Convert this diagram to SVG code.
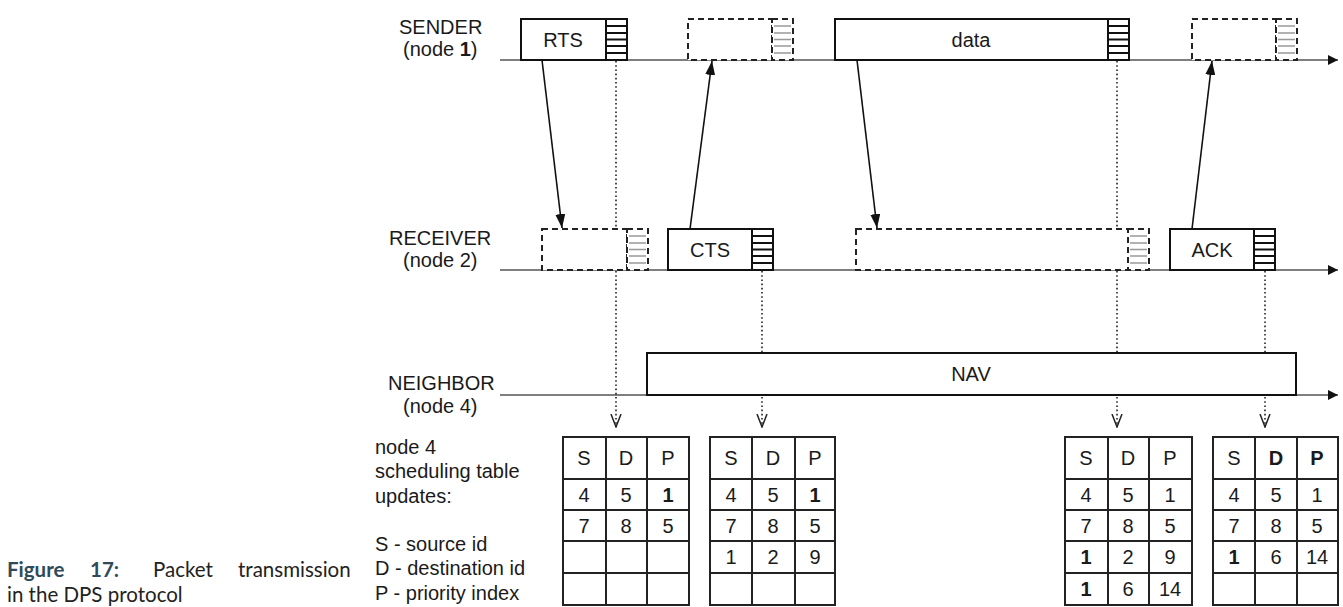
<svg xmlns="http://www.w3.org/2000/svg" xmlns:xlink="http://www.w3.org/1999/xlink" width="1343" height="607" viewBox="0 0 1343 607">
<style>
.lbl{font-family:"Liberation Sans",Arial,sans-serif;font-size:20px;fill:#1a1a1a}
.mid{text-anchor:middle}
.b{font-weight:bold}
.axis{stroke:#555;stroke-width:1.5;fill:none}
.box{fill:#fff;stroke:#111;stroke-width:2}
.dbox{fill:#fff;stroke:#222;stroke-width:2;stroke-dasharray:6 4}
.dot{stroke:#222;stroke-width:1.6;stroke-dasharray:1.6 2.6;fill:none}
.msg{stroke:#111;stroke-width:1.6;fill:none}
.tbl{fill:#fff;stroke:#222;stroke-width:2}
.grid{stroke:#222;stroke-width:2}
.cap{font-family:Lato,"Open Sans",sans-serif;font-size:20.5px;fill:#222}
.capb{font-weight:bold;fill:#2f4b5a}
</style>
<defs>
<marker id="ah" viewBox="0 0 10 10" refX="10" refY="5" markerWidth="10" markerHeight="10" markerUnits="userSpaceOnUse" orient="auto"><path d="M0,0 L10,5 L0,10 z" fill="#111"/></marker>
<marker id="mh" viewBox="0 0 14 10" refX="14" refY="5" markerWidth="14" markerHeight="10" markerUnits="userSpaceOnUse" orient="auto"><path d="M0,0 L14,5 L0,10 z" fill="#111"/></marker>
<marker id="oh" viewBox="0 0 14 12" refX="13" refY="6" markerWidth="14" markerHeight="12" markerUnits="userSpaceOnUse" orient="auto"><path d="M0,1 L13,6 L0,11" fill="none" stroke="#222" stroke-width="1.5"/></marker>
<g id="hs">
<rect x="0" y="0" width="21" height="41" fill="#fff" stroke="#111" stroke-width="2"/>
<path d="M0,7H21M0,14H21M0,20.5H21M0,27H21M0,34H21" stroke="#111" stroke-width="2"/>
</g>
<g id="hd">
<rect x="0" y="0" width="21" height="41" fill="#fff" stroke="none"/>
<path d="M2,7H19M2,14H19M2,20.5H19M2,27H19M2,34H19" stroke="#999" stroke-width="1.6"/>
<rect x="0" y="0" width="21" height="41" fill="none" stroke="#222" stroke-width="2" stroke-dasharray="6 4"/>
</g>
</defs>

<g id="axes">
<line class="axis" x1="500" y1="60" x2="1338" y2="60" marker-end="url(#ah)"/>
<line class="axis" x1="500" y1="270" x2="1338" y2="270" marker-end="url(#ah)"/>
<line class="axis" x1="500" y1="395" x2="1338" y2="395" marker-end="url(#ah)"/>
</g>

<g id="connectors">
<line class="dot" x1="616" y1="61" x2="616" y2="427" marker-end="url(#oh)"/>
<line class="dot" x1="762" y1="271" x2="762" y2="427" marker-end="url(#oh)"/>
<line class="dot" x1="1117" y1="61" x2="1117" y2="427" marker-end="url(#oh)"/>
<line class="dot" x1="1265" y1="271" x2="1265" y2="427" marker-end="url(#oh)"/>
</g>

<g id="labels">
<text class="lbl" x="399" y="34">SENDER</text>
<text class="lbl" x="403" y="56">(node <tspan class="b">1</tspan>)</text>
<text class="lbl" x="389" y="245">RECEIVER</text>
<text class="lbl" x="403" y="267">(node 2)</text>
<text class="lbl" x="388" y="390">NEIGHBOR</text>
<text class="lbl" x="403" y="413">(node 4)</text>
<text class="lbl" x="375" y="454">node 4</text>
<text class="lbl" x="375" y="478">scheduling table</text>
<text class="lbl" x="375" y="503">updates:</text>
<text class="lbl" x="375" y="551">S - source id</text>
<text class="lbl" x="375" y="575">D - destination id</text>
<text class="lbl" x="375" y="600">P - priority index</text>
</g>

<g id="sender-rts">
<rect class="box" x="521" y="19" width="85" height="41"/>
<use xlink:href="#hs" x="606" y="19"/>
<text class="lbl mid" x="563" y="47">RTS</text>
</g>
<g id="sender-cts-rx">
<rect class="dbox" x="688" y="19" width="84" height="41"/>
<use xlink:href="#hd" x="772" y="19"/>
</g>
<g id="sender-data">
<rect class="box" x="835" y="19" width="273" height="41"/>
<use xlink:href="#hs" x="1108" y="19"/>
<text class="lbl mid" x="971" y="47">data</text>
</g>
<g id="sender-ack-rx">
<rect class="dbox" x="1192" y="19" width="84" height="41"/>
<use xlink:href="#hd" x="1276" y="19"/>
</g>

<g id="receiver-rts-rx">
<rect class="dbox" x="542" y="229" width="85" height="41"/>
<use xlink:href="#hd" x="627" y="229"/>
</g>
<g id="receiver-cts">
<rect class="box" x="668" y="229" width="84" height="41"/>
<use xlink:href="#hs" x="752" y="229"/>
<text class="lbl mid" x="710" y="257">CTS</text>
</g>
<g id="receiver-data-rx">
<rect class="dbox" x="856" y="229" width="272" height="41"/>
<use xlink:href="#hd" x="1128" y="229"/>
</g>
<g id="receiver-ack">
<rect class="box" x="1170" y="229" width="84" height="41"/>
<use xlink:href="#hs" x="1254" y="229"/>
<text class="lbl mid" x="1212" y="257">ACK</text>
</g>

<g id="neighbor-nav">
<rect class="box" x="647" y="353" width="649" height="42"/>
<text class="lbl mid" x="971" y="381">NAV</text>
</g>

<g id="messages">
<line class="msg" x1="542" y1="60" x2="562" y2="228" marker-end="url(#mh)"/>
<line class="msg" x1="690" y1="229" x2="712" y2="61" marker-end="url(#mh)"/>
<line class="msg" x1="857" y1="60" x2="877" y2="228" marker-end="url(#mh)"/>
<line class="msg" x1="1192" y1="229" x2="1212" y2="61" marker-end="url(#mh)"/>
</g>

<g id="table1">
<rect class="tbl" x="563" y="437" width="126" height="168"/>
<path class="grid" d="M606,437V605M647,437V605M563,479H689M563,510H689M563,541H689M563,573H689"/>
<text class="lbl mid" x="584" y="465">S</text><text class="lbl mid" x="626" y="465">D</text><text class="lbl mid" x="668" y="465">P</text>
<text class="lbl mid" x="584" y="502">4</text><text class="lbl mid" x="626" y="502">5</text><text class="lbl mid b" x="668" y="502">1</text>
<text class="lbl mid" x="584" y="533">7</text><text class="lbl mid" x="626" y="533">8</text><text class="lbl mid" x="668" y="533">5</text>
</g>
<g id="table2">
<rect class="tbl" x="710" y="437" width="125" height="168"/>
<path class="grid" d="M752,437V605M795,437V605M710,479H835M710,510H835M710,541H835M710,573H835"/>
<text class="lbl mid" x="731" y="465">S</text><text class="lbl mid" x="773" y="465">D</text><text class="lbl mid" x="815" y="465">P</text>
<text class="lbl mid" x="731" y="502">4</text><text class="lbl mid" x="773" y="502">5</text><text class="lbl mid b" x="815" y="502">1</text>
<text class="lbl mid" x="731" y="533">7</text><text class="lbl mid" x="773" y="533">8</text><text class="lbl mid" x="815" y="533">5</text>
<text class="lbl mid" x="731" y="564">1</text><text class="lbl mid" x="773" y="564">2</text><text class="lbl mid" x="815" y="564">9</text>
</g>
<g id="table3">
<rect class="tbl" x="1065" y="437" width="127" height="168"/>
<path class="grid" d="M1108,437V605M1149,437V605M1065,479H1192M1065,510H1192M1065,541H1192M1065,573H1192"/>
<text class="lbl mid" x="1086" y="465">S</text><text class="lbl mid" x="1128" y="465">D</text><text class="lbl mid" x="1170" y="465">P</text>
<text class="lbl mid" x="1086" y="502">4</text><text class="lbl mid" x="1128" y="502">5</text><text class="lbl mid" x="1170" y="502">1</text>
<text class="lbl mid" x="1086" y="533">7</text><text class="lbl mid" x="1128" y="533">8</text><text class="lbl mid" x="1170" y="533">5</text>
<text class="lbl mid b" x="1086" y="564">1</text><text class="lbl mid" x="1128" y="564">2</text><text class="lbl mid" x="1170" y="564">9</text>
<text class="lbl mid b" x="1086" y="596">1</text><text class="lbl mid" x="1128" y="596">6</text><text class="lbl mid" x="1170" y="596">14</text>
</g>
<g id="table4">
<rect class="tbl" x="1213" y="437" width="125" height="168"/>
<path class="grid" d="M1255,437V605M1297,437V605M1213,479H1338M1213,510H1338M1213,541H1338M1213,573H1338"/>
<text class="lbl mid" x="1234" y="465">S</text><text class="lbl mid b" x="1276" y="465">D</text><text class="lbl mid b" x="1317" y="465">P</text>
<text class="lbl mid" x="1234" y="502">4</text><text class="lbl mid" x="1276" y="502">5</text><text class="lbl mid" x="1317" y="502">1</text>
<text class="lbl mid" x="1234" y="533">7</text><text class="lbl mid" x="1276" y="533">8</text><text class="lbl mid" x="1317" y="533">5</text>
<text class="lbl mid b" x="1234" y="564">1</text><text class="lbl mid" x="1276" y="564">6</text><text class="lbl mid" x="1317" y="564">14</text>
</g>

<g id="caption">
<text class="cap capb" x="7" y="577">Figure</text>
<text class="cap capb" x="90" y="577">17:</text>
<text class="cap" x="153" y="577">Packet</text>
<text class="cap" x="238" y="577">transmission</text>
<text class="cap" x="7" y="602">in the DPS protocol</text>
</g>
</svg>
